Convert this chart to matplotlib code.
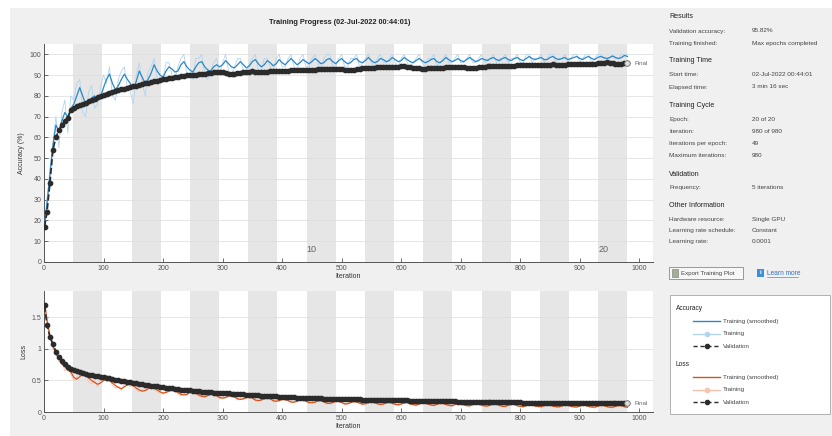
import matplotlib
matplotlib.use("Agg")
import matplotlib.pyplot as plt
from matplotlib.patches import Rectangle
import numpy as np

plt.rcParams["font.family"] = ["Liberation Sans", "DejaVu Sans"]

# iterations at which values were logged (validation every 5 iterations)
iterations = [1] + list(range(5, 981, 5))
iters_per_epoch = 49
n_epochs = 20

val_acc = [
    17, 24, 38, 54, 60, 63.5, 66, 68, 69.5, 73,
    74, 75, 75.6, 76.1, 76.8, 77.4, 78, 78.7, 79.3, 79.9,
    80.5, 81, 81.4, 81.9, 82.4, 82.8, 83.2, 83.5, 83.9, 84.2,
    84.6, 85, 85.3, 85.6, 86, 86.3, 86.7, 87, 87.3, 87.6,
    88, 88.3, 88.6, 88.8, 89, 89.2, 89.5, 89.7, 89.9, 90,
    90.1, 90.3, 90.4, 90.6, 90.7, 90.9, 91.1, 91.3, 91.5, 91.6,
    91.4, 91, 90.6, 90.4, 90.6, 90.9, 91.2, 91.4, 91.6, 91.7,
    91.8, 91.7, 91.5, 91.3, 91.4, 91.6, 91.8, 91.9, 92, 92.1,
    92.1, 92.2, 92.2, 92.3, 92.3, 92.4, 92.4, 92.5, 92.6, 92.6,
    92.7, 92.7, 92.8, 92.8, 92.9, 92.9, 93, 93, 93.1, 93.1,
    93, 92.7, 92.4, 92.3, 92.5, 92.8, 93, 93.2, 93.3, 93.4,
    93.5, 93.6, 93.7, 93.8, 93.8, 93.9, 94, 94, 94.1, 94.1,
    94.2, 94.2, 94.1, 93.9, 93.6, 93.4, 93.2, 93.1, 93.1, 93.2,
    93.3, 93.4, 93.5, 93.6, 93.6, 93.7, 93.7, 93.8, 93.8, 93.9,
    93.9, 93.8, 93.6, 93.5, 93.5, 93.6, 93.8, 94, 94.1, 94.2,
    94.3, 94.3, 94.4, 94.4, 94.5, 94.5, 94.6, 94.6, 94.6, 94.7,
    94.7, 94.8, 94.8, 94.9, 94.9, 95, 95, 95, 95.1, 95.1,
    95.1, 95.2, 95.1, 95, 95, 95.1, 95.2, 95.3, 95.3, 95.4,
    95.4, 95.5, 95.5, 95.5, 95.6, 95.6, 95.7, 95.8, 96, 96.1,
    96, 95.8, 95.6, 95.5, 95.6, 95.7, 95.82,
]

train_acc_smooth = [
    17, 28, 42, 56, 66, 63, 68, 72, 70, 74,
    76, 80, 84, 80, 76, 77, 79, 80, 78, 79.5,
    84, 88, 90.5, 86, 83, 85, 88, 90.5, 88, 86,
    83.5, 87, 92, 89, 86, 88, 91, 95, 92, 90,
    89, 92, 94, 93, 91.5, 92, 95, 96.5, 94, 92.5,
    91.5, 94, 96, 96.5, 94, 92.5, 92, 94, 95, 94,
    95, 97, 95.5, 94, 93.5, 95, 96.5, 95, 93.5, 94.5,
    96.5, 97.5, 95.5, 94, 95, 97, 96, 94.5, 95.5, 97.5,
    96, 95, 96.5, 98, 96.5, 95, 96, 97.5, 96.5, 95.5,
    96.5, 98, 97, 95.5, 96, 97.5, 98, 96.5, 95.5, 97,
    98, 96.5, 95.5, 96, 97.5, 98, 96.5, 96, 97, 98.5,
    97, 96, 96.5, 98, 97.5, 96.5, 97, 98.5, 97.5, 96.5,
    97, 98.5, 97.5, 96.5, 96, 97, 98, 97, 96, 96.5,
    97.5, 98, 96.5, 96, 97, 98.5, 97.5, 96.5, 97, 98,
    97, 96.5, 97.5, 98.5, 97.5, 96.5, 97, 98, 97.5, 97,
    98, 98.5, 97.5, 97, 98, 98.5, 97.5, 97, 98, 98.5,
    97.5, 97, 98, 99, 98, 97.5, 98, 98.5, 97.5, 97.5,
    98.5, 99, 98, 97.5, 98, 98.5, 97.5, 98, 98.5, 99,
    98, 97.5, 98.5, 99, 98, 97.5, 98.5, 99, 98.5, 98,
    98.5, 99.2, 98.5, 98, 98.5, 99.5, 99,
]

train_acc_raw = [
    17, 30, 45, 58, 70, 55, 72, 78, 62, 80,
    78, 86, 88, 72, 70, 82, 85, 74, 76, 84,
    90, 86, 94, 80, 78, 88, 92, 94, 84, 82,
    76, 90, 96, 86, 80, 92, 94, 98, 88, 86,
    88, 96, 96, 90, 88, 94, 98, 100, 90, 90,
    88, 98, 98, 100, 90, 88, 92, 96, 98, 90,
    96, 100, 92, 90, 94, 98, 98, 92, 90, 96,
    98, 100, 92, 92, 98, 98, 94, 92, 98, 100,
    94, 94, 98, 100, 94, 92, 98, 100, 94, 94,
    98, 100, 96, 92, 98, 100, 100, 94, 94, 98,
    100, 94, 94, 98, 98, 100, 94, 96, 98, 100,
    96, 94, 98, 100, 96, 96, 98, 100, 96, 94,
    98, 100, 96, 94, 96, 98, 100, 96, 94, 98,
    98, 100, 94, 96, 98, 100, 96, 96, 98, 100,
    96, 96, 98, 100, 96, 96, 98, 100, 96, 98,
    98, 100, 96, 98, 98, 100, 96, 98, 98, 100,
    96, 96, 100, 100, 96, 98, 98, 100, 96, 98,
    100, 100, 96, 98, 98, 100, 96, 98, 100, 100,
    96, 98, 100, 100, 96, 98, 100, 100, 98, 98,
    98, 100, 98, 98, 100, 100, 100,
]

val_loss = [
    1.69, 1.38, 1.19, 1.08, 0.96, 0.88, 0.81, 0.76, 0.72, 0.69,
    0.665, 0.645, 0.628, 0.613, 0.60, 0.59, 0.58, 0.572, 0.565, 0.56,
    0.553, 0.545, 0.535, 0.525, 0.515, 0.505, 0.497, 0.489, 0.481, 0.474,
    0.467, 0.46, 0.452, 0.444, 0.436, 0.428, 0.42, 0.412, 0.405, 0.398,
    0.392, 0.386, 0.38, 0.374, 0.368, 0.362, 0.357, 0.352, 0.347, 0.342,
    0.337, 0.333, 0.329, 0.325, 0.321, 0.317, 0.313, 0.309, 0.306, 0.303,
    0.30, 0.297, 0.294, 0.291, 0.288, 0.285, 0.282, 0.279, 0.276, 0.273,
    0.27, 0.267, 0.264, 0.261, 0.258, 0.255, 0.252, 0.249, 0.246, 0.243,
    0.24, 0.238, 0.236, 0.234, 0.232, 0.23, 0.228, 0.226, 0.224, 0.222,
    0.22, 0.218, 0.216, 0.215, 0.213, 0.212, 0.21, 0.209, 0.207, 0.206,
    0.205, 0.204, 0.203, 0.202, 0.201, 0.20, 0.199, 0.198, 0.197, 0.196,
    0.195, 0.194, 0.193, 0.192, 0.191, 0.19, 0.189, 0.188, 0.187, 0.186,
    0.185, 0.184, 0.183, 0.182, 0.181, 0.18, 0.179, 0.178, 0.177, 0.176,
    0.175, 0.174, 0.173, 0.172, 0.171, 0.17, 0.169, 0.168, 0.167, 0.166,
    0.165, 0.164, 0.163, 0.163, 0.162, 0.161, 0.16, 0.16, 0.159, 0.158,
    0.157, 0.157, 0.156, 0.155, 0.155, 0.154, 0.153, 0.153, 0.152, 0.151,
    0.151, 0.15, 0.15, 0.149, 0.148, 0.148, 0.147, 0.147, 0.146, 0.146,
    0.145, 0.145, 0.144, 0.144, 0.143, 0.143, 0.142, 0.142, 0.141, 0.141,
    0.14, 0.14, 0.14, 0.139, 0.139, 0.139, 0.138, 0.138, 0.138, 0.137,
    0.137, 0.137, 0.136, 0.136, 0.136, 0.135, 0.135,
]

train_loss_smooth = [
    1.72, 1.45, 1.2, 1.05, 0.92, 0.86, 0.76, 0.72, 0.66, 0.64,
    0.55, 0.52, 0.56, 0.6, 0.58, 0.54, 0.5, 0.47, 0.44, 0.46,
    0.5, 0.52, 0.5, 0.46, 0.42, 0.39, 0.37, 0.4, 0.43, 0.44,
    0.42, 0.38, 0.35, 0.33, 0.34, 0.37, 0.39, 0.38, 0.35, 0.32,
    0.3, 0.31, 0.33, 0.35, 0.34, 0.31, 0.28, 0.27, 0.28, 0.31,
    0.32, 0.3, 0.27, 0.25, 0.24, 0.26, 0.28, 0.28, 0.26, 0.23,
    0.22, 0.23, 0.25, 0.26, 0.24, 0.21, 0.2, 0.21, 0.23, 0.24,
    0.22, 0.19, 0.18, 0.19, 0.21, 0.22, 0.21, 0.18, 0.17, 0.18,
    0.2, 0.2, 0.18, 0.16, 0.155, 0.17, 0.19, 0.19, 0.17, 0.15,
    0.145, 0.155, 0.175, 0.18, 0.16, 0.14, 0.135, 0.15, 0.17, 0.17,
    0.15, 0.13, 0.13, 0.15, 0.165, 0.16, 0.14, 0.125, 0.13, 0.15,
    0.16, 0.15, 0.13, 0.12, 0.125, 0.145, 0.155, 0.14, 0.12, 0.115,
    0.125, 0.145, 0.15, 0.13, 0.115, 0.11, 0.125, 0.145, 0.145, 0.125,
    0.11, 0.105, 0.12, 0.14, 0.14, 0.12, 0.105, 0.1, 0.115, 0.135,
    0.135, 0.115, 0.1, 0.1, 0.115, 0.13, 0.13, 0.11, 0.095, 0.095,
    0.11, 0.13, 0.125, 0.105, 0.09, 0.09, 0.105, 0.125, 0.12, 0.1,
    0.088, 0.088, 0.1, 0.12, 0.118, 0.098, 0.085, 0.085, 0.1, 0.118,
    0.112, 0.094, 0.082, 0.082, 0.096, 0.114, 0.11, 0.09, 0.08, 0.08,
    0.094, 0.11, 0.106, 0.088, 0.078, 0.078, 0.09, 0.106, 0.104, 0.086,
    0.076, 0.076, 0.088, 0.104, 0.1, 0.084, 0.075,
]

train_loss_raw = [
    1.75, 1.5, 1.25, 1.0, 0.95, 0.8, 0.8, 0.65, 0.7, 0.6,
    0.5, 0.55, 0.62, 0.58, 0.6, 0.48, 0.45, 0.5, 0.4, 0.52,
    0.55, 0.48, 0.52, 0.42, 0.38, 0.4, 0.34, 0.45, 0.46, 0.4,
    0.44, 0.35, 0.32, 0.36, 0.33, 0.4, 0.38, 0.36, 0.32, 0.3,
    0.28, 0.34, 0.36, 0.33, 0.36, 0.28, 0.26, 0.29, 0.26, 0.34,
    0.3, 0.28, 0.25, 0.23, 0.26, 0.28, 0.3, 0.26, 0.24, 0.21,
    0.24, 0.22, 0.27, 0.24, 0.26, 0.19, 0.21, 0.2, 0.25, 0.22,
    0.24, 0.17, 0.19, 0.18, 0.23, 0.2, 0.23, 0.16, 0.18, 0.17,
    0.22, 0.18, 0.19, 0.14, 0.17, 0.16, 0.21, 0.18, 0.18, 0.13,
    0.16, 0.14, 0.19, 0.17, 0.17, 0.12, 0.15, 0.14, 0.19, 0.16,
    0.16, 0.11, 0.14, 0.14, 0.18, 0.15, 0.15, 0.11, 0.14, 0.14,
    0.18, 0.13, 0.14, 0.1, 0.14, 0.13, 0.17, 0.12, 0.13, 0.1,
    0.14, 0.13, 0.16, 0.11, 0.13, 0.09, 0.14, 0.13, 0.16, 0.11,
    0.12, 0.09, 0.13, 0.13, 0.15, 0.1, 0.12, 0.08, 0.13, 0.12,
    0.15, 0.1, 0.11, 0.08, 0.13, 0.12, 0.14, 0.09, 0.11, 0.08,
    0.12, 0.12, 0.14, 0.09, 0.1, 0.07, 0.12, 0.11, 0.13, 0.09,
    0.1, 0.07, 0.11, 0.11, 0.13, 0.08, 0.1, 0.07, 0.11, 0.1,
    0.12, 0.08, 0.09, 0.07, 0.11, 0.1, 0.12, 0.08, 0.09, 0.07,
    0.1, 0.1, 0.12, 0.08, 0.09, 0.06, 0.1, 0.1, 0.12, 0.08,
    0.08, 0.06, 0.1, 0.1, 0.11, 0.07, 0.08,
]

info_rows = [
    ("Results", None),
    ("Validation accuracy:", "95.82%"),
    ("Training finished:", "Max epochs completed"),
    ("Training Time", None),
    ("Start time:", "02-Jul-2022 00:44:01"),
    ("Elapsed time:", "3 min 16 sec"),
    ("Training Cycle", None),
    ("Epoch:", "20 of 20"),
    ("Iteration:", "980 of 980"),
    ("Iterations per epoch:", "49"),
    ("Maximum iterations:", "980"),
    ("Validation", None),
    ("Frequency:", "5 iterations"),
    ("Other Information", None),
    ("Hardware resource:", "Single GPU"),
    ("Learning rate schedule:", "Constant"),
    ("Learning rate:", "0.0001"),
]
info_y = [17, 31, 43, 61, 75, 87, 105, 119, 131, 143, 155, 174, 187, 205, 219, 230, 241]

BLUE = "#2b87c8"
BLUE_LIGHT = "#b3d4ee"
ORANGE = "#d95319"
ORANGE_LIGHT = "#f4c3ad"
VAL = "#2b2b2b"
BAND = "#e6e6e6"
PANEL = "#f0f0f0"

W, H = 832, 436
fig = plt.figure(figsize=(W / 100, H / 100), dpi=100)
fig.patch.set_facecolor("white")
fig.add_artist(Rectangle((10 / W, 0), 1, 1 - 8 / H, transform=fig.transFigure,
                         facecolor=PANEL, edgecolor="none", zorder=-5))


def style_axes(ax, ylim, yticks, ylabel):
    ax.set_facecolor("white")
    ax.set_xlim(0, 1023)
    ax.set_ylim(*ylim)
    for e in range(1, n_epochs, 2):
        ax.axvspan(e * iters_per_epoch, (e + 1) * iters_per_epoch,
                   color=BAND, lw=0, zorder=0)
    for t in yticks[1:]:
        ax.axhline(t, color="#dcdcdc", lw=0.5, zorder=0.5)
    ax.set_yticks(yticks)
    ax.set_xticks(range(0, 1001, 100))
    ax.tick_params(direction="in", length=3, width=0.6, colors="#555555",
                   labelsize=5, pad=2)
    ax.spines["top"].set_visible(False)
    ax.spines["right"].set_visible(False)
    for s in ("left", "bottom"):
        ax.spines[s].set_color("#555555")
        ax.spines[s].set_linewidth(0.7)
    ax.set_xlabel("Iteration", fontsize=5, color="#333333", labelpad=1)
    ax.set_ylabel(ylabel, fontsize=5, color="#333333", labelpad=3)


# accuracy
ax1 = fig.add_axes([44 / W, 1 - 262 / H, 609 / W, 218 / H])
style_axes(ax1, (0, 105), list(range(0, 101, 10)), "Accuracy (%)")
ax1.plot(iterations, train_acc_raw, color=BLUE_LIGHT, lw=0.6, zorder=2)
ax1.plot(iterations, train_acc_smooth, color=BLUE, lw=0.9, zorder=3)
ax1.plot(iterations, val_acc, color=VAL, ls="--", lw=1.2, marker="o",
         ms=3.1, mfc=VAL, mec=VAL, zorder=4)
ax1.plot(iterations[-1], val_acc[-1], "o", ms=4, mfc="#dddddd", mec="#777777",
         mew=0.6, zorder=5)
ax1.text(iterations[-1] + 12, val_acc[-1], "Final", fontsize=4.5,
         color="#666666", va="center")
for ep in (10, 20):
    ax1.text((ep - 1) * iters_per_epoch, 4, str(ep), fontsize=6.5,
             color="#666666", ha="left", va="bottom")

# loss
ax2 = fig.add_axes([44 / W, 1 - 412 / H, 609 / W, 121 / H])
style_axes(ax2, (0, 1.92), [0, 0.5, 1, 1.5], "Loss")
ax2.set_yticklabels(["0", "0.5", "1", "1.5"])
ax2.plot(iterations, train_loss_raw, color=ORANGE_LIGHT, lw=0.6, zorder=2)
ax2.plot(iterations, train_loss_smooth, color=ORANGE, lw=0.9, zorder=3)
ax2.plot(iterations, val_loss, color=VAL, ls="--", lw=1.2, marker="o",
         ms=3.1, mfc=VAL, mec=VAL, zorder=4)
ax2.plot(iterations[-1], val_loss[-1], "o", ms=4, mfc="#dddddd", mec="#777777",
         mew=0.6, zorder=5)
ax2.text(iterations[-1] + 12, val_loss[-1], "Final", fontsize=4.5,
         color="#666666", va="center")

fig.text(340 / W, 1 - 23 / H, "Training Progress (02-Jul-2022 00:44:01)",
         fontsize=5.3, fontweight="bold", color="#222222", ha="center", va="center")

# right-hand information panel, drawn in pixel coordinates
ov = fig.add_axes([0, 0, 1, 1], facecolor="none")
ov.set_xlim(0, W)
ov.set_ylim(H, 0)
ov.axis("off")

for (label, value), y in zip(info_rows, info_y):
    if value is None:
        ov.text(669, y, label, fontsize=5.1, color="#222222", va="center")
    else:
        ov.text(669, y, label, fontsize=4.6, color="#444444", va="center")
        ov.text(752, y, value, fontsize=4.6, color="#444444", va="center")

# buttons
ov.add_patch(Rectangle((669, 267), 74, 12, facecolor="#f7f7f7",
                       edgecolor="#8a8a8a", lw=0.6))
ov.add_patch(Rectangle((671.5, 269), 6, 8, facecolor="#a4ad95",
                       edgecolor="#777777", lw=0.4))
ov.text(681, 273, "Export Training Plot", fontsize=4.4, color="#444444",
        va="center")
ov.add_patch(Rectangle((757, 268.5), 7, 8, facecolor="#3d8fd9", edgecolor="none"))
ov.text(760.5, 272.5, "i", fontsize=4.5, color="white", ha="center",
        va="center", fontweight="bold")
ov.text(767, 273, "Learn more", fontsize=4.7, color="#2f6fbf", va="center")
ov.plot([767, 798], [277, 277], color="#2f6fbf", lw=0.4)

# legend
ov.add_patch(Rectangle((670, 295), 160, 119, facecolor="white",
                       edgecolor="#a6a6a6", lw=0.6))
legend_groups = [
    ("Accuracy", 308, [(BLUE, "-", None, "Training (smoothed)"),
                       (BLUE_LIGHT, "-", "o", "Training"),
                       (VAL, "--", "o", "Validation")]),
    ("Loss", 364, [(ORANGE, "-", None, "Training (smoothed)"),
                   (ORANGE_LIGHT, "-", "o", "Training"),
                   (VAL, "--", "o", "Validation")]),
]
for title, y0, items in legend_groups:
    ov.text(676, y0, title, fontsize=4.8, color="#222222", va="center")
    for k, (c, ls, mk, lab) in enumerate(items):
        y = y0 + 13 + k * 12.7
        ov.plot([693, 720], [y, y], color=c, ls=ls, lw=1.0,
                dashes=(3, 2) if ls == "--" else (None, None))
        if mk:
            ov.plot([706.5], [y], marker=mk, ms=3, color=c)
        ov.text(723, y, lab, fontsize=4.5, color="#444444", va="center")

fig.savefig("out.png", dpi=100)
